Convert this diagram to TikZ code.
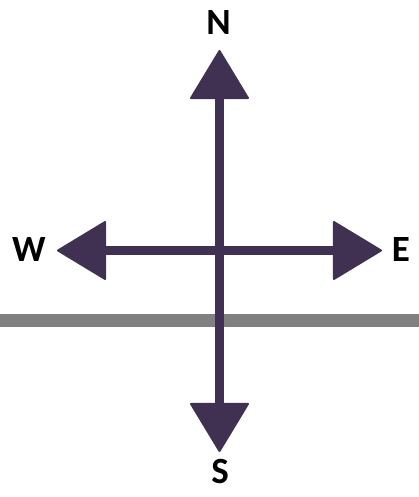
\documentclass[tikz,border=0pt]{standalone}
\usepackage{fontspec}
\newfontfamily\lblfont{Carlito}[BoldFont={Carlito Bold}]
\usetikzlibrary{arrows.meta}
\definecolor{compass}{HTML}{403152}
\definecolor{ground}{HTML}{808080}
\begin{document}
\begin{tikzpicture}[x=1pt,y=1pt,
  letter/.style={font=\lblfont\bfseries\fontsize{37}{37}\selectfont, inner sep=0pt, anchor=center},
  axis/.style={draw=compass, line width=9pt,
    {Triangle[width=60pt,length=50pt,round,line width=2pt]}-{Triangle[width=60pt,length=50pt,round,line width=2pt]}},
  groundline/.style={draw=ground, line width=13pt}]
\useasboundingbox (0,0) rectangle (419,497);
% ground line
\coordinate (gl) at (0,176.5);
\coordinate (gr) at (419,176.5);
\draw[groundline] (gl) -- (gr);
% arrow tips
\coordinate (nt) at (219.5,447);
\coordinate (st) at (219.5,45);
\coordinate (wt) at (57,246.5);
\coordinate (et) at (382,246.5);
\draw[axis] (nt) -- (st);
\draw[axis] (wt) -- (et);
% labels
\node[letter] (N) at (218.5,474) {N};
\node[letter] (S) at (220,26) {S};
\node[letter] (W) at (29,247) {W};
\node[letter] (E) at (401,247) {E};
\end{tikzpicture}
\end{document}
